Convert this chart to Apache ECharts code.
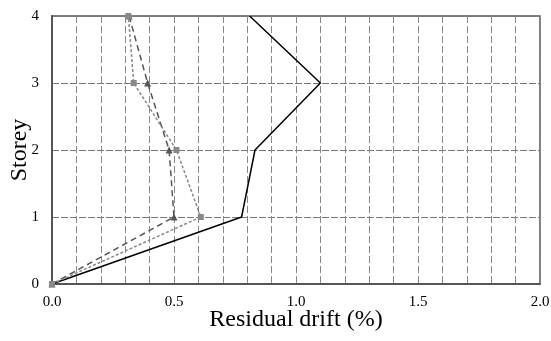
<!DOCTYPE html>
<html><head><meta charset="utf-8">
<script src="https://cdn.jsdelivr.net/npm/echarts@6/dist/echarts.min.js"></script>
<style>html,body{margin:0;padding:0;background:#fff}#c{width:551px;height:341px}</style>
</head><body><div id="c"></div>
<script>
var storeys = [0, 1, 2, 3, 4];
var solidDrift = [0, 0.777, 0.832, 1.10, 0.81];
var triangleDrift = [0, 0.50, 0.48, 0.392, 0.316];
var squareDrift = [0, 0.61, 0.51, 0.335, 0.313];
var xTickLabels = ['0.0', '0.5', '1.0', '1.5', '2.0'];

function pairs(xs) { return xs.map(function (x, i) { return [x, storeys[i]]; }); }
var font = '"Liberation Serif","DejaVu Serif",serif';
var chart = echarts.init(document.getElementById('c'));
chart.setOption({
  animation: false,
  grid: { left: 52, right: 11, top: 16, bottom: 57, containLabel: false, outerBoundsMode: 'none',
          show: true, borderColor: '#555', borderWidth: 1.5 },
  xAxis: {
    type: 'value', min: 0, max: 2, interval: 0.1,
    name: 'Residual drift (%)', nameLocation: 'middle', nameGap: 24, nameMoveOverlap: false,
    nameTextStyle: { fontFamily: font, fontSize: 24, color: '#000', verticalAlign: 'top' },
    axisLine: { show: true, lineStyle: { color: '#555', width: 2 } },
    axisTick: { show: false },
    axisLabel: {
      interval: 0, fontFamily: font, fontSize: 15, color: '#000', margin: 11,
      formatter: function (v) {
        var k = Math.round(v / 0.5);
        return Math.abs(v - k * 0.5) < 1e-6 ? xTickLabels[k] : '';
      }
    },
    splitLine: { show: true, lineStyle: { color: '#888', width: 1, type: [7, 3] } }
  },
  yAxis: {
    type: 'value', min: 0, max: 4, interval: 1,
    name: 'Storey', nameLocation: 'middle', nameGap: 20, nameMoveOverlap: false,
    nameTextStyle: { fontFamily: font, fontSize: 24, color: '#000' },
    axisLine: { show: true, lineStyle: { color: '#555', width: 2 } },
    axisTick: { show: false },
    axisLabel: { fontFamily: font, fontSize: 15, color: '#000', margin: 13 },
    splitLine: { show: true, lineStyle: { color: '#777', width: 1, type: [7, 2] } }
  },
  series: [
    { type: 'line', data: pairs(solidDrift), showSymbol: false, symbol: 'none',
      lineStyle: { color: '#000', width: 1.5 }, z: 3 },
    { type: 'line', data: pairs(triangleDrift), symbol: 'triangle', symbolSize: 7,
      itemStyle: { color: '#555' }, lineStyle: { color: '#555', width: 1.5, type: [6, 4] }, z: 4 },
    { type: 'line', data: pairs(squareDrift), symbol: 'rect', symbolSize: 6,
      itemStyle: { color: '#888' }, lineStyle: { color: '#888', width: 1.5, type: [3, 2] }, z: 5 }
  ]
});
</script></body></html>
